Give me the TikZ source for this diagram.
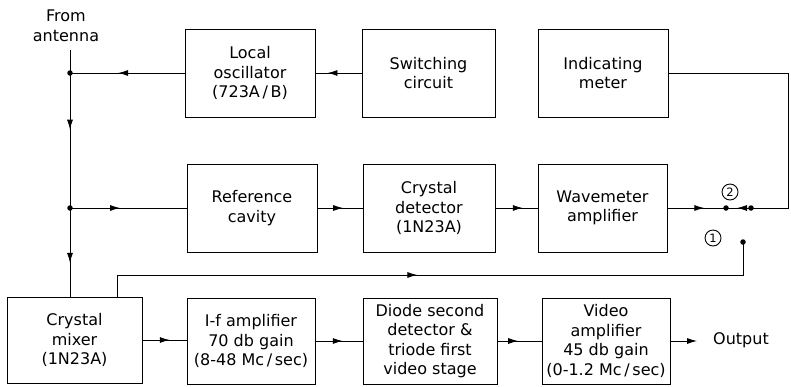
\documentclass[tikz,border=0pt]{standalone}
\usepackage{fontspec}
\setmainfont{DejaVu Sans}
\usetikzlibrary{arrows.meta,decorations.markings}
\begin{document}
\begin{tikzpicture}[x=1pt,y=-1pt,
  every node/.style={font=\fontsize{16}{19.5}\selectfont},
  blk/.style={draw, line width=1pt, inner sep=2pt, align=center, minimum height=88pt},
  wire/.style={line width=0.9pt},
  midarrow/.style={wire, postaction={decorate}, decoration={markings,
      mark=at position #1 with {\arrow{Latex[length=10pt,width=6pt]}}}},
  dot/.style={circle, fill, inner sep=0pt, minimum size=5.5pt},
  num/.style={circle, draw, line width=0.9pt, inner sep=0pt, minimum size=16pt,
      font=\fontsize{11.5}{11.5}\selectfont}
]
\useasboundingbox (0,0) rectangle (791,386);
% top row
\node[blk, minimum width=130pt] (lo) at (250,73) {Local\\oscillator\\(723A\,/\,B)};
\node[blk, minimum width=133pt] (sw) at (428.5,73) {Switching\\circuit};
\node[blk, minimum width=130pt] (im) at (603,73) {Indicating\\meter};
% middle row
\node[blk, minimum width=130pt] (rc) at (252,208) {Reference\\cavity};
\node[blk, minimum width=132pt] (cd) at (429,208) {Crystal\\detector\\(1N23A)};
\node[blk, minimum width=129pt] (wa) at (602.5,208) {Wavemeter\\amplifier};
% bottom row
\node[blk, minimum width=135pt, minimum height=86pt] (mx) at (74.5,340) {Crystal\\mixer\\(1N23A)};
\node[blk, minimum width=128pt, minimum height=86pt] (if) at (251,341) {I-f amplifier\\70 db gain\\(8-48 Mc\,/\,sec)};
\node[blk, minimum width=134pt, minimum height=86pt] (dd) at (430,341) {Diode second\\detector \&\\triode first\\video stage};
\node[blk, minimum width=128pt, minimum height=86pt] (va) at (606,341) {Video\\amplifier\\45 db gain\\(0-1.2 Mc\,/\,sec)};
% labels
\node[align=center] (ant) at (66,26) {From\\antenna};
\node (out) at (741,340) {Output};
% junctions and switch points
\coordinate (a0) at (70,50);
\node[dot] (j1) at (70,73) {};
\node[dot] (j2) at (70,208) {};
\node[dot] (s2) at (726,208) {};
\node[dot] (sp) at (751,208) {};
\node[dot] (s1) at (743,242) {};
\node[num] (n2) at (730,192) {2};
\node[num] (n1) at (713,238) {1};
\coordinate (rt) at (788,73);
\coordinate (tap) at (117,275);
\coordinate (oend) at (697,341);
% connectors
\draw[wire] (a0) -- (j1.center);
\draw[midarrow=0.42] (j1.center) -- (j2.center);
\draw[midarrow=0.62] (j2.center) -- (j2.center |- mx.north);
\draw[midarrow=0.58] (lo.west |- j1) -- (j1.center);
\draw[midarrow=0.74] (sw.west) -- (lo.east);
\draw[midarrow=0.43] (j2.center) -- (rc.west);
\draw[midarrow=0.57] (rc.east) -- (cd.west);
\draw[midarrow=0.65] (cd.east) -- (wa.west);
\draw[midarrow=0.63] (wa.east) -- (s2.center);
\draw[wire] (im.east) -- (rt) -- (rt |- sp) -- (sp.center);
\draw[midarrow=0.56] (sp.center) -- (s2.center);
\draw[midarrow=0.473] (tap |- mx.north) -- (tap) -- (tap -| s1) -- (s1.center);
\draw[midarrow=0.62] (mx.east) -- (if.west |- mx.east);
\draw[midarrow=0.58] (if.east) -- (dd.west);
\draw[midarrow=0.47] (dd.east) -- (va.west);
\draw[wire, -{Latex[length=10pt,width=6pt]}] (va.east) -- (oend);
\end{tikzpicture}
\end{document}
